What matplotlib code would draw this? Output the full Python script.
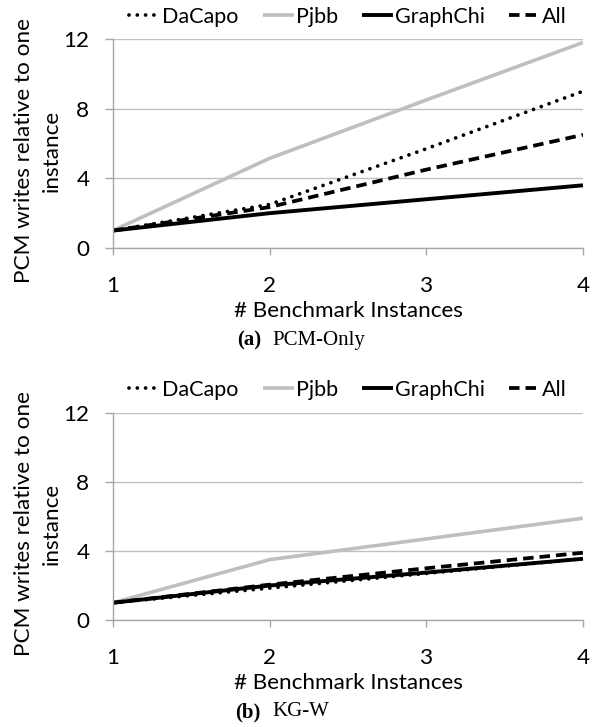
import matplotlib
matplotlib.use("Agg")
import matplotlib.pyplot as plt

instances = [1, 2, 3, 4]
series_names = ["DaCapo", "Pjbb", "GraphChi", "All"]

# (a) PCM-Only
pcm_dacapo = [1.0, 2.5, 5.7, 9.0]
pcm_pjbb = [1.0, 5.15, 8.5, 11.8]
pcm_graphchi = [1.0, 2.0, 2.8, 3.6]
pcm_all = [1.0, 2.35, 4.5, 6.5]

# (b) KG-W
kgw_dacapo = [1.0, 1.85, 2.7, 3.55]
kgw_pjbb = [1.0, 3.5, 4.7, 5.9]
kgw_graphchi = [1.0, 2.0, 2.75, 3.55]
kgw_all = [1.0, 2.05, 3.0, 3.9]

y_ticks = [0, 4, 8, 12]
x_label = "# Benchmark Instances"
y_label = "PCM writes relative to one\ninstance"
captions = [("(a)", "PCM-Only"), ("(b)", "KG-W")]

SANS = "Lato"
FS = 16.2
LEG_FS = 15.5
GRID = "#C0C0C0"
AXC = "#A6A6A6"
PJBB = "#BFBFBF"

styles = {
    "DaCapo": dict(color="black", lw=2.7, linestyle=(0, (0.01, 2.2)), dash_capstyle="round"),
    "Pjbb": dict(color=PJBB, lw=2.6, linestyle="-", solid_capstyle="butt"),
    "GraphChi": dict(color="black", lw=2.8, linestyle="-", solid_capstyle="butt"),
    "All": dict(color="black", lw=2.7, linestyle=(0, (2.8, 1.6)), dash_capstyle="butt"),
}

W, H = 602, 727
fig = plt.figure(figsize=(W / 100, H / 100), dpi=100)

panels = [
    (dict(zip(series_names, [pcm_dacapo, pcm_pjbb, pcm_graphchi, pcm_all])), 39, 248, 17, 340),
    (dict(zip(series_names, [kgw_dacapo, kgw_pjbb, kgw_graphchi, kgw_all])), 413, 620, 390, 712),
]

L, R = 113, 583
for (data, top, bot, leg_y, cap_y), (cap_b, cap_t) in zip(panels, captions):
    hgt = bot - top
    ax = fig.add_axes([L / W, 1 - bot / H, (R - L) / W, hgt / H])
    for name in series_names:
        ax.plot(instances, data[name], label=name, **styles[name])
    ax.set_xlim(1, 4)
    ax.set_ylim(0, 12)
    ax.set_xticks(instances)
    ax.set_yticks(y_ticks)
    ax.grid(axis="y", color=GRID, lw=1.0)
    ax.set_axisbelow(True)
    for s in ["top", "right"]:
        ax.spines[s].set_visible(False)
    for s in ["left", "bottom"]:
        ax.spines[s].set_color(AXC)
        ax.spines[s].set_linewidth(1.0)
    ax.tick_params(axis="x", length=5, width=1.0, color=AXC, pad=15, labelsize=FS)
    ax.tick_params(axis="y", length=6, width=1.0, color=AXC, pad=11, labelsize=FS)
    for lab in ax.get_xticklabels() + ax.get_yticklabels():
        lab.set_family(SANS)
    ax.set_xlabel(x_label, fontsize=FS, family=SANS)
    ax.xaxis.set_label_coords(0.5, -63 / hgt)
    ax.xaxis.label.set_va("center")
    ax.set_ylabel(y_label, fontsize=FS, family=SANS, linespacing=1.5)
    ax.yaxis.set_label_coords(-(113 - 38) / 470, 97 / 209)
    ax.yaxis.label.set_va("center")
    ax.legend(loc="center", bbox_to_anchor=(0.5, 1 + (top - leg_y) / hgt),
              ncol=4, frameon=False, handlelength=1.45, handletextpad=0.1,
              columnspacing=1.1, prop={"family": SANS, "size": LEG_FS}, borderaxespad=0)
    fig.text(261 / W, 1 - cap_y / H, cap_b, ha="right", va="center",
             family="Liberation Serif", weight="bold", fontsize=15)
    fig.text(272 / W, 1 - cap_y / H, cap_t, ha="left", va="center",
             family="Liberation Serif", fontsize=15)

fig.savefig("out.png", dpi=100)
